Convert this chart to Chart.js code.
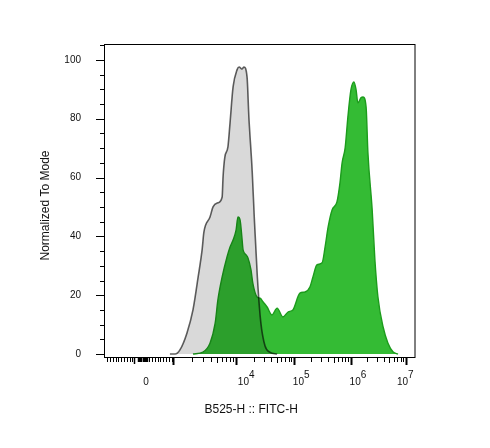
<!DOCTYPE html>
<html>
<head>
<meta charset="utf-8">
<script src="https://cdn.jsdelivr.net/npm/chart.js@4"></script>
<style>
  body { margin: 0; background: #fff; }
  #wrap { width: 490px; height: 448px; }
</style>
</head>
<body>
<div id="wrap"><canvas id="histChart" width="490" height="448"></canvas></div>
<script>
// x in display channels (0-1024, biexponential display), y in % of mode
const ctrlX = [217, 234, 250, 273, 293, 310, 323, 329, 349, 359, 375, 389, 392, 398, 408, 415, 425, 438, 445, 454, 461, 471, 477, 488, 495, 505, 516, 530, 547, 570];
const ctrlY = [0, 0, 1.4, 7.1, 15.0, 26.2, 35.4, 41.5, 46.6, 50.0, 51.4, 53.4, 60.2, 67.0, 70.4, 78.6, 90.8, 96.6, 97.6, 96.9, 97.6, 94.2, 80.6, 62, 46, 26, 11, 2.8, 0.6, 0];

const stainX = [293, 326, 349, 366, 375, 389, 405, 415, 425, 435, 441, 448, 454, 458, 468, 474, 484, 490, 504, 514, 524, 537, 553, 570, 589, 606, 622, 645, 662, 678, 688, 701, 718, 728, 738, 751, 767, 777, 784, 794, 803, 813, 823, 830, 836, 846, 853, 863, 869, 883, 892, 902, 919, 935, 952, 968];
const stainY = [0, 0.7, 3.7, 10.5, 18.4, 26.2, 33.0, 36.4, 38.8, 42.2, 46.6, 45.6, 39.8, 35.4, 33.7, 32.7, 28.6, 24.1, 19.4, 19.0, 17.7, 16.0, 13.3, 15.6, 12.6, 14.3, 15.0, 20.7, 21.1, 22.8, 26.2, 30.3, 31.0, 36.4, 43.2, 49.0, 51.7, 58.2, 65.0, 70.1, 80.6, 89.8, 92.5, 89.8, 85.4, 87.1, 87.4, 84.0, 68.4, 49.0, 32.0, 19.4, 9.2, 3.7, 0.7, 0];

// axis labels and where they sit (channels)
const xLabelPos = [138, 459, 640, 827, 983];
const xLabelExp = ['', '4', '5', '6', '7'];
const yLabels = [0, 20, 40, 60, 80, 100];

// tick marks on the x axis (channels)
const decadeTicks = [227, 435, 626, 813, 994];
const linearTicks = [99];

const toPoints = (xs, ys) => xs.map((x, i) => ({ x: x, y: ys[i] }));

// box round the plot and the tick marks
const frame = {
    id: "frame",
    afterDraw(chart) {
        const { ctx, chartArea: a, scales } = chart;
        const x = scales.x, y = scales.y;
        ctx.save();
        ctx.strokeStyle = "#000";
        ctx.lineWidth = 1;
        ctx.strokeRect(a.left + 0.5, a.top + 0.5, a.right - a.left - 0.5, a.bottom - a.top);

        const tick = (x1, y1, x2, y2, w) => {
            ctx.lineWidth = w;
            ctx.beginPath();
            ctx.moveTo(x1, y1);
            ctx.lineTo(x2, y2);
            ctx.stroke();
        };

        // y ticks every 5
        for (let v = 0; v <= 105; v += 5) {
            const py = Math.round(y.getPixelForValue(v)) + 0.5;
            if (py < a.top) break;
            const len = v % 20 === 0 ? 8 : 4;
            tick(a.left - len, py, a.left, py, 1);
        }

        const bottom = a.bottom + 1;
        const xt = (v, len, w) => {
            const px = Math.round(x.getPixelForValue(v)) + 0.5;
            tick(px, bottom, px, bottom + len, w);
        };

        // linear part near zero
        for (let v = 10; v < 95; v += 9.3) xt(v, 4, 1);
        for (let v = 111; v < 145; v += 4) xt(v, 4, 1.5);
        for (let v = 148; v < 225; v += 9.5) xt(v, 4, 1);
        linearTicks.forEach(v => xt(v, 6, 1.5));

        // log decades
        for (let i = 0; i < decadeTicks.length; i++) {
            xt(decadeTicks[i], 7, 2);
            if (i + 1 < decadeTicks.length) {
                const lo = decadeTicks[i], hi = decadeTicks[i + 1];
                for (let k = 2; k <= 9; k++) {
                    xt(lo + (hi - lo) * Math.log10(k), k === 5 ? 5 : 4, 1);
                }
            }
        }
        ctx.restore();
    }
};

const ctx = document.getElementById("histChart");
new Chart(ctx, {
    type: "line",
    data: {
        datasets: [
            {
                label: "Unstained",
                data: toPoints(ctrlX, ctrlY),
                borderColor: "rgba(0,0,0,0.62)",
                backgroundColor: "rgba(0,0,0,0.15)",
                borderWidth: 1.6,
                fill: "origin",
                pointRadius: 0,
                cubicInterpolationMode: "monotone",
            },
            {
                label: "FITC",
                data: toPoints(stainX, stainY),
                borderColor: "#1c9c1c",
                backgroundColor: "#34bb34",
                borderWidth: 1.4,
                fill: "origin",
                pointRadius: 0,
                cubicInterpolationMode: "monotone",
            },
        ],
    },
    options: {
        responsive: false,
        animation: false,
        layout: { padding: { top: 44, right: 75, bottom: 0, left: 0 } },
        plugins: {
            legend: { display: false },
            tooltip: { enabled: false },
        },
        scales: {
            x: {
                type: "linear",
                min: 0,
                max: 1024,
                grid: { display: false, drawTicks: false },
                border: { display: false },
                afterFit(scale) {
                    scale.height = 91;
                },
                afterBuildTicks(scale) {
                    scale.ticks = xLabelPos.map(v => ({ value: v }));
                },
                ticks: {
                    autoSkip: false,
                    maxRotation: 0,
                    padding: 15,
                    color: "#111",
                    font: { family: "Liberation Sans", size: 10, lineHeight: 0.7 },
                    callback: (value, index) => {
                        const e = xLabelExp[index];
                        if (e === "") return ["", "0"];
                        return ["\u00a0".repeat(6) + e, "10"];
                    },
                },
                title: {
                    display: true,
                    text: "B525-H :: FITC-H" + "\u00a0".repeat(5),
                    color: "#111",
                    font: { family: "Liberation Sans", size: 12 },
                    padding: { top: 0, bottom: 31 },
                },
            },
            y: {
                min: -1,
                max: 105.4,
                grid: { display: false, drawTicks: false },
                border: { display: false },
                afterFit(scale) {
                    scale.width = 104;
                },
                afterBuildTicks(scale) {
                    scale.ticks = yLabels.map(v => ({ value: v }));
                },
                ticks: {
                    padding: 23,
                    color: "#111",
                    font: { family: "'Liberation Sans Narrow', 'Liberation Sans'", size: 10 },
                },
                title: {
                    display: true,
                    text: "Normalized To Mode" + "\u00a0".repeat(3),
                    color: "#111",
                    font: { family: "Liberation Sans", size: 12 },
                    padding: { top: 38, bottom: 0 },
                },
            },
        },
    },
    plugins: [frame],
});
</script>
</body>
</html>
